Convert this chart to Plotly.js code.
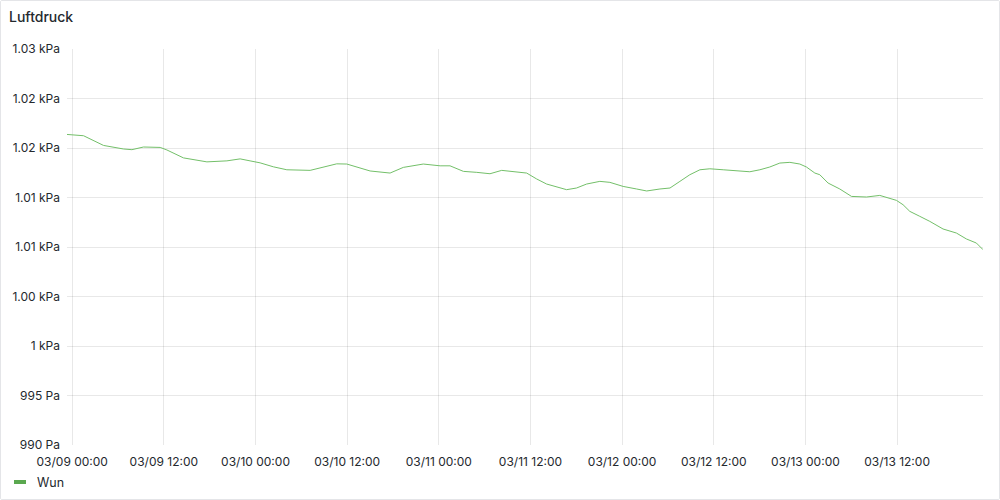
<!DOCTYPE html>
<html>
<head>
<meta charset="utf-8">
<script src="https://cdn.plot.ly/plotly-3.0.1.min.js"></script>
<style>
  html, body { margin: 0; padding: 0; background: #fff; }
  #wrap { width: 998px; height: 498px; border: 1px solid #e4e5e8; border-radius: 2px; position: relative; overflow: hidden; }
  #chart { width: 998px; height: 498px; }
</style>
</head>
<body>
<div id="wrap"><div id="chart"></div></div>
<script>
const seriesName = "Wun";
const times = [
  "2024-03-08 23:19","2024-03-09 01:29","2024-03-09 04:06","2024-03-09 06:43","2024-03-09 07:49",
  "2024-03-09 09:20","2024-03-09 11:31","2024-03-09 12:24","2024-03-09 14:34","2024-03-09 17:38",
  "2024-03-09 20:15","2024-03-09 21:59","2024-03-09 23:17","2024-03-10 00:36","2024-03-10 02:20",
  "2024-03-10 04:06","2024-03-10 07:09","2024-03-10 08:53","2024-03-10 10:38","2024-03-10 11:57",
  "2024-03-10 13:41","2024-03-10 15:00","2024-03-10 17:37","2024-03-10 19:21","2024-03-10 21:58",
  "2024-03-11 00:10","2024-03-11 01:28","2024-03-11 03:13","2024-03-11 04:58","2024-03-11 06:42",
  "2024-03-11 08:14","2024-03-11 09:45","2024-03-11 11:30","2024-03-11 12:49","2024-03-11 14:07",
  "2024-03-11 16:44","2024-03-11 18:02","2024-03-11 19:21","2024-03-11 21:05","2024-03-11 22:24",
  "2024-03-12 00:08","2024-03-12 01:54","2024-03-12 03:13","2024-03-12 04:57","2024-03-12 06:16",
  "2024-03-12 07:34","2024-03-12 08:52","2024-03-12 10:11","2024-03-12 11:29","2024-03-12 13:14",
  "2024-03-12 14:59","2024-03-12 16:43","2024-03-12 18:02","2024-03-12 19:20","2024-03-12 20:39",
  "2024-03-12 21:58","2024-03-12 23:16","2024-03-13 00:08","2024-03-13 01:14","2024-03-13 01:53",
  "2024-03-13 02:58","2024-03-13 04:30","2024-03-13 06:02","2024-03-13 08:00","2024-03-13 09:44",
  "2024-03-13 11:03","2024-03-13 11:55","2024-03-13 12:47","2024-03-13 13:40","2024-03-13 14:58",
  "2024-03-13 16:17","2024-03-13 18:01","2024-03-13 19:46","2024-03-13 21:05","2024-03-13 22:23",
  "2024-03-13 23:15"
];
const pressure = [
  1021.37,1021.24,1020.26,1019.90,1019.83,
  1020.10,1020.06,1019.80,1019.00,1018.60,
  1018.70,1018.90,1018.70,1018.50,1018.10,
  1017.80,1017.74,1018.08,1018.40,1018.38,
  1017.98,1017.68,1017.47,1018.04,1018.38,
  1018.20,1018.20,1017.64,1017.54,1017.40,
  1017.74,1017.60,1017.47,1016.87,1016.36,
  1015.79,1015.96,1016.36,1016.63,1016.53,
  1016.12,1015.86,1015.66,1015.86,1015.96,
  1016.63,1017.30,1017.80,1017.90,1017.80,
  1017.68,1017.60,1017.80,1018.08,1018.48,
  1018.55,1018.38,1018.08,1017.47,1017.30,
  1016.46,1015.86,1015.11,1015.05,1015.21,
  1014.95,1014.71,1014.27,1013.60,1013.10,
  1012.59,1011.82,1011.41,1010.81,1010.40,
  1009.73
];
const yTickVals = [990, 995, 1000, 1005, 1010, 1015, 1020, 1025, 1030];
const yTickText = ["990 Pa","995 Pa","1 kPa","1.00 kPa","1.01 kPa","1.01 kPa","1.02 kPa","1.02 kPa","1.03 kPa"];
const xTickStart = "2024-03-09 00:00";

const lineColor = "#73BF69";
const legendColor = "#5aa84f";
const textColor = "#24292e";
const gridColor = "rgba(0,0,0,0.09)";
const fontFam = "Inter, 'Noto Sans', sans-serif";

const trace = {
  x: times, y: pressure, type: "scatter", mode: "lines",
  name: seriesName, line: { color: lineColor, width: 1 },
  hoverinfo: "skip", showlegend: false
};

const layout = {
  width: 998, height: 498,
  margin: { l: 66, r: 16, t: 48, b: 54 },
  paper_bgcolor: "#fff", plot_bgcolor: "#fff",
  font: { family: fontFam, size: 12, color: textColor },
  title: {
    text: "Luftdruck", x: 8 / 998, xref: "container", xanchor: "left",
    y: 1 - 16 / 498, yref: "container", yanchor: "middle",
    font: { family: fontFam, size: 14, color: textColor, weight: 500 }
  },
  xaxis: {
    type: "date",
    range: [times[0], times[times.length - 1]],
    tick0: xTickStart, dtick: 43200000,
    tickformat: "%m/%d %H:%M",
    showgrid: true, gridcolor: gridColor, gridwidth: 1,
    zeroline: false, showline: false, ticks: "",
    ticklabelstandoff: 8,
    tickfont: { family: fontFam, size: 12, color: textColor }
  },
  yaxis: {
    range: [990, 1030],
    tickmode: "array", tickvals: yTickVals, ticktext: yTickText,
    showgrid: true, gridcolor: gridColor, gridwidth: 1,
    zeroline: false, showline: false, ticks: "",
    ticklabelstandoff: 6,
    tickfont: { family: fontFam, size: 12, color: textColor }
  },
  showlegend: false,
  shapes: [
    { type: "line", xref: "paper", yref: "paper",
      x0: -53 / 916, x1: -41 / 916, y0: -37 / 396, y1: -37 / 396,
      line: { color: legendColor, width: 4 } }
  ],
  annotations: [
    { text: seriesName, xref: "paper", yref: "paper",
      x: -32 / 916, y: -37 / 396, xanchor: "left", yanchor: "middle",
      showarrow: false, font: { family: fontFam, size: 12.5, color: textColor } }
  ]
};

Plotly.newPlot("chart", [trace], layout, { displayModeBar: false, staticPlot: true });
</script>
</body>
</html>
